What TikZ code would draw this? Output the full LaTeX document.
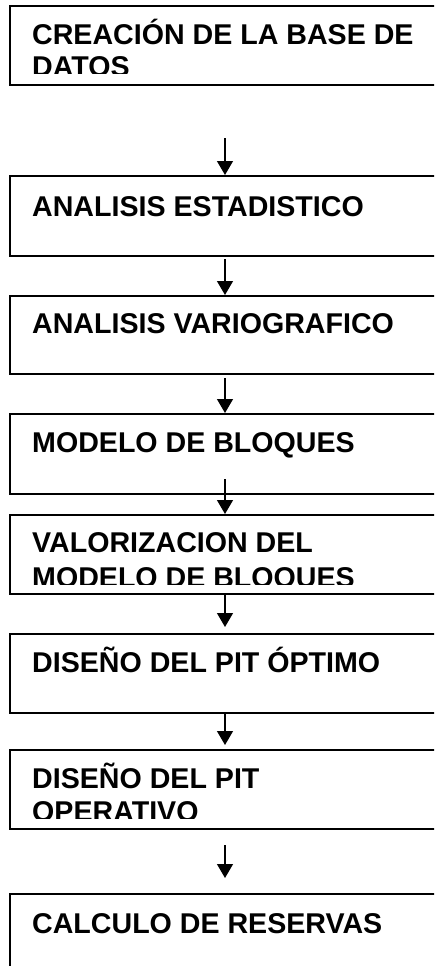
\documentclass[tikz,border=0pt]{standalone}
\usepackage{fontspec}
\setmainfont{Liberation Sans}
\usetikzlibrary{arrows.meta}
\tikzset{
  boxnode/.style={draw=black, line width=1.8pt, anchor=north west, inner sep=0pt, minimum width=460pt},
  lbl/.style={font=\fontsize{28.6}{32}\selectfont\bfseries, anchor=base west, inner sep=0pt},
  flow/.style={line width=1.3pt, -{Triangle[width=16pt,length=14pt]}}
}
\begin{document}
\begin{tikzpicture}[x=1pt,y=-1pt]
\useasboundingbox (0,0) rectangle (434,966);
\clip (0,0) rectangle (434,966);
\fill[white] (0,0) rectangle (434,966);
% boxes
\node[boxnode, minimum height=79pt] (b1) at (9,5) {};
\node[boxnode, minimum height=80pt] (b2) at (9,175) {};
\node[boxnode, minimum height=78pt] (b3) at (9,295) {};
\node[boxnode, minimum height=80pt] (b4) at (9,413) {};
\node[boxnode, minimum height=79pt] (b5) at (9,514) {};
\node[boxnode, minimum height=79pt] (b6) at (9,633) {};
\node[boxnode, minimum height=79pt] (b7) at (9,749) {};
\node[boxnode, minimum height=90pt] (b8) at (9,893) {};
% texts, clipped to the inner area of each box
\begin{scope}
\clip (b1.north west) rectangle ([yshift=12pt]b1.south east);
\node[lbl] (t1a) at (32,45) {CREACIÓN DE LA BASE DE};
\node[lbl] (t1b) at (32,77) {DATOS};
\end{scope}
\node[lbl] (t2) at (32,216) {ANALISIS ESTADISTICO};
\node[lbl] (t3) at (32,333) {ANALISIS VARIOGRAFICO};
\node[lbl] (t4) at (32,452) {MODELO DE BLOQUES};
\begin{scope}
\clip (b5.north west) rectangle ([yshift=10pt]b5.south east);
\node[lbl] (t5a) at (32,552) {VALORIZACION DEL};
\node[lbl] (t5b) at (32,587) {MODELO DE BLOQUES};
\end{scope}
\node[lbl] (t6) at (32,672) {DISEÑO DEL PIT ÓPTIMO};
\begin{scope}
\clip (b7.north west) rectangle ([yshift=11pt]b7.south east);
\node[lbl] (t7a) at (32,788) {DISEÑO DEL PIT};
\node[lbl] (t7b) at (32,821) {OPERATIVO};
\end{scope}
\node[lbl] (t8) at (32,933) {CALCULO DE RESERVAS};
% arrows
\coordinate (a1) at (225,138);
\coordinate (a2) at (225,259);
\coordinate (a3) at (225,378);
\coordinate (a4) at (225,479);
\coordinate (a5) at (225,595);
\coordinate (a6) at (225,712);
\coordinate (a7) at (225,845);
\draw[flow] (a1) -- (a1 |- b2.north);
\draw[flow] (a2) -- (a2 |- b3.north);
\draw[flow] (a3) -- (a3 |- b4.north);
\draw[flow] (a4) -- (a4 |- b5.north);
\draw[flow, shorten >=6pt] (a5) -- (a5 |- b6.north);
\draw[flow, shorten >=4pt] (a6) -- (a6 |- b7.north);
\draw[flow, shorten >=15pt] (a7) -- (a7 |- b8.north);
\end{tikzpicture}
\end{document}
